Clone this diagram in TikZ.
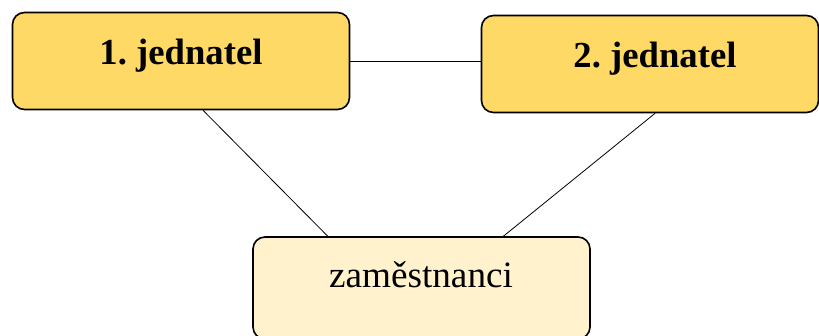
\documentclass[tikz,border=0pt]{standalone}
\usepackage{fontspec}
\setmainfont{Liberation Serif}
\usetikzlibrary{calc}
\definecolor{gold}{HTML}{FFD966}
\definecolor{cream}{HTML}{FFF2CC}
\begin{document}
\frenchspacing
\begin{tikzpicture}[x=1pt,y=1pt,
  boxshape/.style={draw=black,line width=1.6pt,rounded corners=12pt,minimum width=337pt,minimum height=97pt,inner sep=0pt},
  boldtxt/.style={anchor=base,inner sep=0pt,font=\fontsize{36.7}{44}\selectfont\bfseries},
  plaintxt/.style={anchor=base,inner sep=0pt,font=\fontsize{37.2}{44}\selectfont},
  link/.style={draw=black,line width=0.8pt}]
\useasboundingbox (0,0) rectangle (819,336);
\node[boxshape,fill=gold] (b1) at (181,275) {};
\node[boxshape,fill=gold] (b2) at (650,272) {};
\node[boxshape,fill=cream,minimum height=102pt] (b3) at (421.5,48) {};
\node[boldtxt] (t1) at (181,271) {1. jednatel};
\node[boldtxt] (t2) at (655,268) {2. jednatel};
\node[plaintxt] (t3) at (421,48) {zaměstnanci};
\draw[link] (b1.east) -- (b1.east -| b2.west);
\draw[link] ($(b1.south west)!0.565!(b1.south east)$) -- ($(b3.north west)!0.223!(b3.north east)$);
\draw[link] ($(b2.south west)!0.515!(b2.south east)$) -- ($(b3.north west)!0.742!(b3.north east)$);
\end{tikzpicture}
\end{document}
